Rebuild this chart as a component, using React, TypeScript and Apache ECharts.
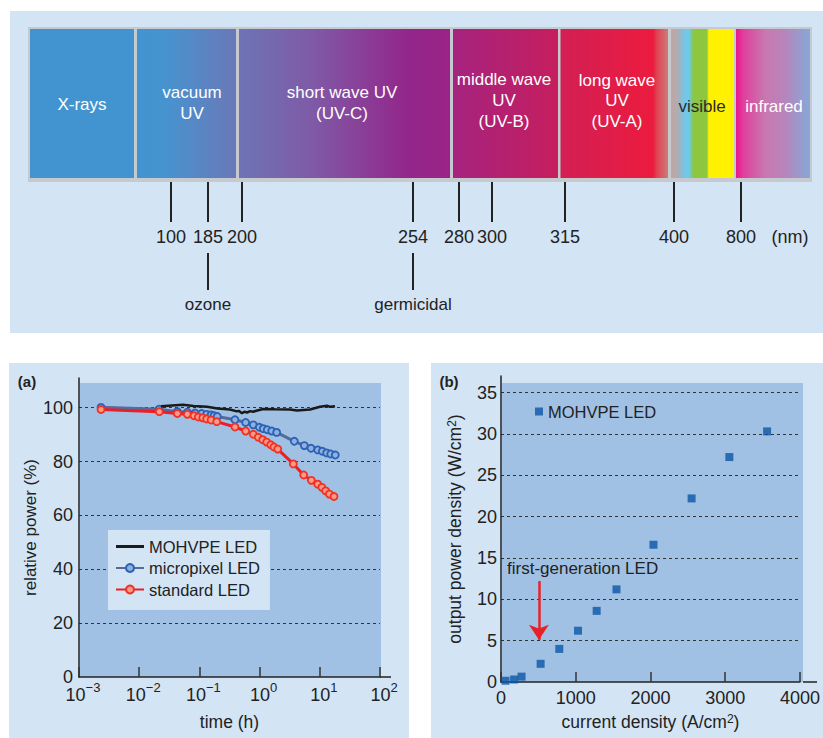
import React, { useEffect, useRef } from 'react';
import * as echarts from 'echarts';

const FONT = "'Liberation Sans', Arial, sans-serif";
const PANEL = '#d3e4f5';
const PLOT = '#a1c1e4';
const INK = '#222222';

// ---------- spectrum (top) ----------
const bandNames = ['X-rays', 'vacuum\nUV', 'short wave UV\n(UV-C)', 'middle wave\nUV\n(UV-B)', 'long wave\nUV\n(UV-A)', 'visible', 'infrared'];
const wavelengthTicks = ['100', '185', '200', '254', '280', '300', '315', '400', '800'];
const wavelengthUnit = '(nm)';
const specialWavelengths = ['185', '254'];
const specialNames = ['ozone', 'germicidal'];

// ---------- (a) relative power vs time ----------
const seriesNamesA = ['MOHVPE LED', 'micropixel LED', 'standard LED'];
const timeMohvpe = [0.023, 0.035, 0.0535, 0.08, 0.134, 0.2, 0.322, 0.421, 0.45, 0.51, 0.56, 0.618, 0.7, 0.777, 1.14, 1.8, 3.2, 4.18, 6.87, 10.1, 13.2, 14.8, 17.9];
const powerMohvpe = [100.5, 100.8, 101.1, 100.6, 100.3, 99.7, 99.3, 98.6, 98.8, 97.9, 98.5, 98.2, 98.7, 98.5, 99.5, 99.4, 99.3, 98.9, 99.3, 100.3, 100.7, 100.3, 100.5];
const timeMicro = [0.00232, 0.0213, 0.043, 0.063, 0.0845, 0.109, 0.132, 0.156, 0.175, 0.198, 0.39, 0.587, 0.785, 0.989, 1.15, 1.34, 1.59, 1.92, 3.77, 5.53, 7.14, 9.23, 11.0, 13.0, 15.2, 18.1];
const powerMicro = [100.1, 99.4, 98.5, 98.3, 98.0, 97.8, 97.5, 97.3, 97.0, 96.7, 95.5, 94.5, 93.6, 92.7, 92.2, 91.8, 91.3, 90.8, 87.5, 85.9, 84.9, 84.3, 83.8, 83.2, 82.8, 82.4];
const timeStd = [0.00232, 0.0216, 0.043, 0.063, 0.0813, 0.096, 0.1135, 0.132, 0.156, 0.194, 0.39, 0.587, 0.785, 0.95, 1.125, 1.31, 1.53, 1.73, 2.0, 3.63, 5.4, 7.23, 9.23, 10.8, 12.5, 14.4, 17.2];
const powerStd = [99.3, 98.5, 97.8, 97.5, 97.0, 96.5, 96.2, 95.8, 95.4, 94.8, 92.8, 91.3, 90.1, 89.0, 88.1, 87.2, 86.2, 85.4, 84.6, 79.1, 75.0, 73.0, 71.6, 70.4, 69.1, 67.9, 67.0];

// ---------- (b) output power density vs current density ----------
const seriesNameB = 'MOHVPE LED (b)';
const legendLabelB = 'MOHVPE LED';
const currentDensity = [60, 175, 275, 530, 780, 1030, 1280, 1545, 2040, 2550, 3055, 3560];
const outputPower = [0.15, 0.3, 0.65, 2.2, 4.0, 6.2, 8.6, 11.2, 16.6, 22.2, 27.2, 30.3];
const annotationText = 'first-generation LED';
const arrowFrom = [507, 12.2];
const arrowTo = [507, 5.1];

// ---------- layout (pixels) ----------
const bandLeft = [30, 137, 239, 453, 560.5, 671, 736];
const bandRight = [134, 236, 450, 558, 668, 734, 810];
const bandLabelX = [82, 192, 342, 504, 617, 702, 774];
const bandLabelY = [104, 103, 103, 100.5, 100.8, 106, 106];
const bandLabelColor = ['#fff', '#fff', '#fff', '#fff', '#fff', '#2b2b2b', '#fff'];
const bandStops: [number, string][][] = [
  [[0, '#4294d0'], [1, '#4294d0']],
  [[0, '#4294d0'], [0.3, '#4793cf'], [1, '#6a78b8']],
  [[0, '#6d74b6'], [0.35, '#7f5aa6'], [0.8, '#93268a'], [1, '#9a2386']],
  [[0, '#a5237f'], [1, '#c61e5e']],
  [[0, '#d21f55'], [0.86, '#ec1b3e'], [0.9, '#e04552'], [1, '#cc7a7a']],
  [[0, '#c4a4a4'], [0.12, '#a9afb6'], [0.2, '#78c4e4'], [0.28, '#6ccbee'], [0.36, '#8dc63f'], [0.57, '#8dc63f'], [0.6, '#fff100'], [1, '#fff100']],
  [[0, '#e8168c'], [0.1, '#e0409c'], [0.4, '#c878b0'], [0.65, '#b884bc'], [1, '#86a8d8']],
];
const tickX = [171, 208, 242, 413, 459, 492, 565, 674, 741];

const gridA = { left: 79, top: 378, width: 301, height: 299 };
const gridB = { left: 501, top: 376, width: 302, height: 306 };

function buildGraphics() {
  const els: any[] = [];
  const txt = (text: string, x: number, y: number, size: number, color: string, align = 'center', weight: any = 'normal', lh?: number) => ({
    type: 'text', x, y, z: 5, silent: true,
    style: {
      text, fill: color, fontSize: size, fontFamily: FONT, fontWeight: weight,
      align, textAlign: align, verticalAlign: 'middle', textVerticalAlign: 'middle', lineHeight: lh,
    },
  });
  // panels
  els.push({ type: 'rect', z: -20, silent: true, shape: { x: 10, y: 11, width: 813, height: 322 }, style: { fill: PANEL } });
  els.push({ type: 'rect', z: -20, silent: true, shape: { x: 9, y: 363, width: 400, height: 375 }, style: { fill: PANEL } });
  els.push({ type: 'rect', z: -20, silent: true, shape: { x: 431, y: 363, width: 392, height: 375 }, style: { fill: PANEL } });
  // plot backgrounds
  els.push({ type: 'rect', z: -19, silent: true, shape: { x: 80, y: 383, width: 301, height: 294 }, style: { fill: PLOT } });
  els.push({ type: 'rect', z: -19, silent: true, shape: { x: 502, y: 383, width: 301, height: 299 }, style: { fill: PLOT } });
  // axis-line overshoots
  els.push({ type: 'line', z: 3, silent: true, shape: { x1: 380, y1: 677, x2: 391, y2: 677 }, style: { stroke: INK, lineWidth: 1.5 } });
  els.push({ type: 'line', z: 3, silent: true, shape: { x1: 803, y1: 682, x2: 817, y2: 682 }, style: { stroke: INK, lineWidth: 1.5 } });

  // spectrum bar
  els.push({ type: 'rect', z: -10, silent: true, shape: { x: 28, y: 27, width: 784, height: 155 }, style: { fill: '#c6c9cd' } });
  bandNames.forEach((name, i) => {
    els.push({
      type: 'rect', z: -9, silent: true,
      shape: { x: bandLeft[i], y: 29, width: bandRight[i] - bandLeft[i], height: 149 },
      style: {
        fill: {
          type: 'linear', x: 0, y: 0, x2: 1, y2: 0,
          colorStops: bandStops[i].map(([offset, color]) => ({ offset, color })),
        },
      },
    });
    els.push(txt(name, bandLabelX[i], bandLabelY[i], 17, bandLabelColor[i], 'center', 'normal', 20.7));
  });
  wavelengthTicks.forEach((w, i) => {
    els.push({ type: 'line', z: 2, silent: true, shape: { x1: tickX[i], y1: 182, x2: tickX[i], y2: 222 }, style: { stroke: INK, lineWidth: 2 } });
    els.push(txt(w, tickX[i], 237, 18, INK));
  });
  els.push(txt(wavelengthUnit, 790, 237, 18, INK));
  specialWavelengths.forEach((w, i) => {
    const x = tickX[wavelengthTicks.indexOf(w)];
    els.push({ type: 'line', z: 2, silent: true, shape: { x1: x, y1: 253, x2: x, y2: 290 }, style: { stroke: INK, lineWidth: 2 } });
    els.push(txt(specialNames[i], x, 304, 17, INK));
  });

  // panel labels
  els.push(txt('(a)', 27, 381, 15, INK, 'center', 'bold'));
  els.push(txt('(b)', 449, 381, 15, INK, 'center', 'bold'));
  els.push(txt(annotationText, 507, 568, 17, INK, 'left'));
  return els;
}

const supRich = {
  p: { width: 8, fontSize: 18 },
  b: { fontSize: 18, lineHeight: 28, color: INK, fontFamily: FONT },
  s: { fontSize: 13, lineHeight: 13, verticalAlign: 'top', color: INK, fontFamily: FONT },
};

function logLabel(v: number) {
  const e = Math.round(Math.log10(v));
  const t = e < 0 ? '\u2212' + -e : String(e);
  return `{p| }{b|10}{s|${t}}`;
}

const nameStyle = { fontSize: 17.5, color: INK, fontFamily: FONT };
const nameRich = {
  n: { fontSize: 17.5, color: INK, fontFamily: FONT },
  s: { fontSize: 12, color: INK, fontFamily: FONT, verticalAlign: 'top', lineHeight: 12 },
};

function buildOption(): any {
  const pair = (xs: number[], ys: number[]) => xs.map((x, i) => [x, ys[i]]);
  return {
    animation: false,
    textStyle: { fontFamily: FONT },
    graphic: { elements: buildGraphics() },
    grid: [
      { ...gridA, containLabel: false },
      { ...gridB, containLabel: false },
    ],
    xAxis: [
      {
        type: 'log', gridIndex: 0, logBase: 10, min: 0.001, max: 100,
        axisLine: { show: true, onZero: false, lineStyle: { color: INK, width: 1.5 } },
        axisTick: { show: true, inside: true, length: 10, lineStyle: { color: '#333', width: 1.5 } },
        splitLine: { show: false },
        minorTick: { show: false },
        axisLabel: { margin: 4, formatter: logLabel, rich: supRich, color: INK },
        name: 'time (h)', nameLocation: 'middle', nameGap: 36, nameTextStyle: nameStyle,
      },
      {
        type: 'value', gridIndex: 1, min: 0, max: 4000, interval: 1000,
        axisLine: { show: true, onZero: false, lineStyle: { color: INK, width: 1.5 } },
        axisTick: { show: true, inside: true, length: 10, lineStyle: { color: '#333', width: 1.5 } },
        splitLine: { show: false },
        axisLabel: { margin: 7, fontSize: 18, color: INK, fontFamily: FONT, formatter: (v: number) => String(v) },
        name: '{n|current density (A/cm}{s|2}{n|)}', nameLocation: 'middle', nameGap: 31,
        nameTextStyle: { ...nameStyle, rich: nameRich },
      },
    ],
    yAxis: [
      {
        type: 'value', gridIndex: 0, min: 0, max: 111, interval: 20,
        axisLine: { show: true, onZero: false, lineStyle: { color: INK, width: 1.5 } },
        axisTick: { show: false },
        splitLine: { show: true, showMinLine: false, showMaxLine: false, lineStyle: { color: '#333', width: 1, type: [3, 3] } },
        axisLabel: { margin: 6, fontSize: 18, color: INK, fontFamily: FONT, showMaxLabel: false },
        name: 'relative power (%)', nameLocation: 'middle', nameGap: 38, nameTextStyle: { ...nameStyle, fontSize: 17 },
      },
      {
        type: 'value', gridIndex: 1, min: 0, max: 37, interval: 5,
        axisLine: { show: true, onZero: false, lineStyle: { color: INK, width: 1.5 } },
        axisTick: { show: false },
        splitLine: { show: true, showMinLine: false, showMaxLine: false, lineStyle: { color: '#333', width: 1, type: [3, 3] } },
        axisLabel: { margin: 4, fontSize: 18, color: INK, fontFamily: FONT, showMaxLabel: false },
        name: '{n|output power density (W/cm}{s|2}{n|)}', nameLocation: 'middle', nameGap: 37,
        nameTextStyle: { ...nameStyle, rich: nameRich },
      },
    ],
    legend: [
      {
        data: [
          { name: seriesNamesA[0], icon: 'path://M0,0 L28,0 L28,3 L0,3 Z' },
          seriesNamesA[1],
          seriesNamesA[2],
        ],
        orient: 'vertical', left: 108, top: 530,
        backgroundColor: PANEL, padding: [6, 10, 10, 7],
        itemWidth: 28, itemHeight: 10, itemGap: 0.5, selectedMode: false,
        textStyle: { fontSize: 16.5, color: INK, fontFamily: FONT, lineHeight: 21 },
      },
      {
        data: [seriesNameB], formatter: () => legendLabelB, left: 535, top: 401, padding: 0,
        itemWidth: 8, itemHeight: 8, icon: 'rect', selectedMode: false,
        textStyle: { fontSize: 16.5, color: INK, fontFamily: FONT, lineHeight: 21 },
      },
    ],
    series: [
      {
        name: seriesNamesA[1], type: 'line', xAxisIndex: 0, yAxisIndex: 0,
        data: pair(timeMicro, powerMicro),
        symbol: 'circle', symbolSize: 7, showSymbol: true,
        lineStyle: { color: '#58699c', width: 3 },
        itemStyle: { color: '#8eb0e2', borderColor: '#2c62b3', borderWidth: 1.8 },
        z: 3,
      },
      {
        name: seriesNamesA[2], type: 'line', xAxisIndex: 0, yAxisIndex: 0,
        data: pair(timeStd, powerStd),
        symbol: 'circle', symbolSize: 7, showSymbol: true,
        lineStyle: { color: '#ee1d25', width: 3 },
        itemStyle: { color: '#ff9a88', borderColor: '#f03224', borderWidth: 1.8 },
        z: 4,
      },
      {
        name: seriesNamesA[0], type: 'line', xAxisIndex: 0, yAxisIndex: 0,
        data: pair(timeMohvpe, powerMohvpe),
        symbol: 'none',
        lineStyle: { color: '#1a1a1a', width: 2.5 },
        itemStyle: { color: '#1a1a1a' },
        z: 5,
      },
      {
        name: seriesNameB, type: 'scatter', xAxisIndex: 1, yAxisIndex: 1,
        data: pair(currentDensity, outputPower),
        symbol: 'rect', symbolSize: 8,
        itemStyle: { color: '#0b56a8' },
        z: 4,
        markLine: {
          silent: true, symbol: ['none', 'arrow'], symbolSize: 15,
          label: { show: false },
          lineStyle: { color: '#e82028', width: 2.5, type: 'solid' },
          data: [[{ coord: arrowFrom }, { coord: arrowTo }]],
        },
      },
    ],
  };
}

export default function App() {
  const ref = useRef<HTMLDivElement>(null);
  useEffect(() => {
    document.body.style.margin = '0';
    const chart = echarts.init(ref.current!, undefined, { renderer: 'svg' });
    chart.setOption(buildOption());
    return () => chart.dispose();
  }, []);
  return (
    <div
      ref={ref}
      style={{ position: 'fixed', left: 0, top: 0, width: 823, height: 738, background: '#ffffff' }}
    />
  );
}
